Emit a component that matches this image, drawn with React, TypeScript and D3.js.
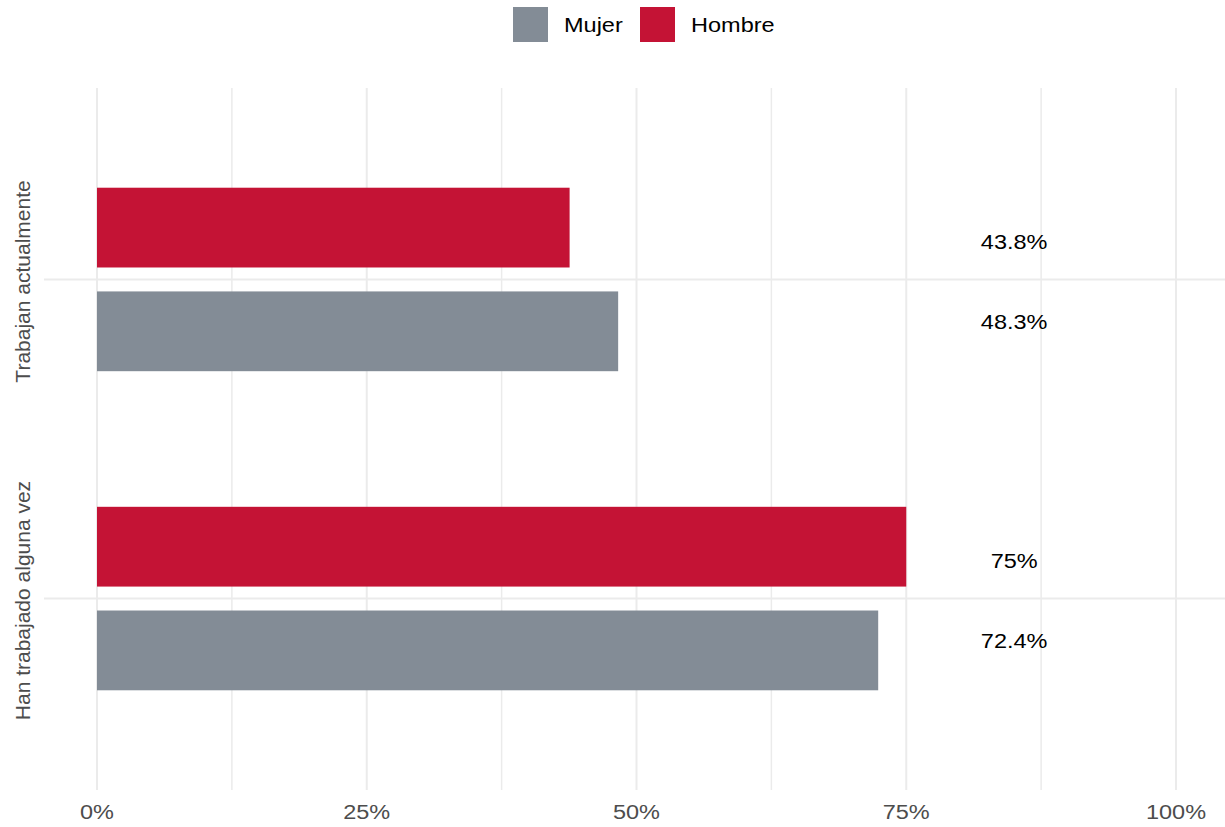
import React from "react";
import * as d3 from "d3";

const categories = ["Trabajan actualmente", "Han trabajado alguna vez"];
const series = ["Mujer", "Hombre"];
const mujerValues = [48.3, 72.4];
const hombreValues = [43.8, 75];
const labelMujer = ["48.3%", "72.4%"];
const labelHombre = ["43.8%", "75%"];
const xTicks = [0, 25, 50, 75, 100];
const xMinor = [12.5, 37.5, 62.5, 87.5];
const colors: Record<string, string> = { Mujer: "#838c96", Hombre: "#c41335" };

const W = 1225, H = 827;
const left = 97, right = 1176, top = 88, bottom = 790;
const SX = 1.12;

function HText(props: { x: number; y: number; anchor?: string; size: number; fill: string; children: React.ReactNode }) {
  return (
    <text
      transform={`translate(${props.x},${props.y}) scale(${SX},1)`}
      textAnchor={props.anchor || "start"}
      dominantBaseline="central"
      fontSize={props.size}
      fill={props.fill}
    >
      {props.children}
    </text>
  );
}

export default function App() {
  const x = d3.scaleLinear().domain([0, 100]).range([left, right]);
  const y = d3.scalePoint<string>().domain(categories).range([top, bottom]).padding(0.6);
  const step = y.step();
  const barH = step * 0.25;
  const off = step * 0.1625;
  const font = "'Liberation Sans', Arial, Helvetica, sans-serif";

  return (
    <svg width={W} height={H} style={{ position: "absolute", left: 0, top: 0 }} fontFamily={font}>
      <rect width={W} height={H} fill="#fff" />
      {xMinor.map((t) => (
        <line key={"mi" + t} x1={x(t)} x2={x(t)} y1={top} y2={bottom} stroke="#ebebeb" strokeWidth={1.5} />
      ))}
      {xTicks.map((t) => (
        <line key={"ma" + t} x1={x(t)} x2={x(t)} y1={top} y2={bottom} stroke="#ebebeb" strokeWidth={2} />
      ))}
      {categories.map((c) => (
        <line key={"h" + c} x1={44} x2={W} y1={y(c)!} y2={y(c)!} stroke="#ebebeb" strokeWidth={2} />
      ))}
      {categories.map((c, i) => {
        const cy = y(c)!;
        return (
          <g key={c}>
            <rect x={x(0)} width={x(hombreValues[i]) - x(0)} y={cy - off - barH / 2} height={barH} fill={colors.Hombre} />
            <rect x={x(0)} width={x(mujerValues[i]) - x(0)} y={cy + off - barH / 2} height={barH} fill={colors.Mujer} />
            <HText x={x(85)} y={cy - 38} anchor="middle" size={21} fill="#000">{labelHombre[i]}</HText>
            <HText x={x(85)} y={cy + 42} anchor="middle" size={21} fill="#000">{labelMujer[i]}</HText>
            <text transform={`translate(22,${cy + 2}) rotate(-90)`} textAnchor="middle" dominantBaseline="central" fontSize={21} fill="#4d4d4d">{c}</text>
          </g>
        );
      })}
      {xTicks.map((t) => (
        <HText key={"t" + t} x={x(t)} y={812} anchor="middle" size={21} fill="#4d4d4d">{t + "%"}</HText>
      ))}
      <g>
        <rect x={513} y={7} width={35} height={35} fill={colors[series[0]]} />
        <HText x={564} y={25} size={21} fill="#000">{series[0]}</HText>
        <rect x={640} y={7} width={35} height={35} fill={colors[series[1]]} />
        <HText x={691} y={25} size={21} fill="#000">{series[1]}</HText>
      </g>
    </svg>
  );
}
